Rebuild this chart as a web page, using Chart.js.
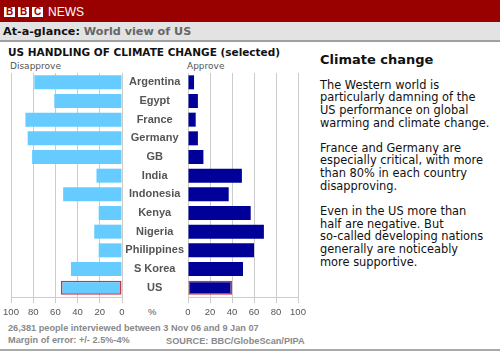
<!DOCTYPE html>
<html><head><meta charset="utf-8">
<script src="https://cdn.jsdelivr.net/npm/chart.js@4"></script>
<style>
html,body{margin:0;padding:0;background:#fff;}
body{width:500px;height:352px;position:relative;overflow:hidden;font-family:"DejaVu Sans",Verdana,sans-serif;}
.abs{position:absolute;white-space:nowrap;}
#hdr{left:0;top:0;width:500px;height:22px;background:#990000;}
.blk{position:absolute;top:7px;width:11px;height:10px;background:#fff;color:#990000;font:bold 10px "Liberation Sans",Arial,sans-serif;line-height:10px;text-align:center;}
#news{left:48px;top:4px;color:#fff;font:12px "Liberation Sans",Arial,sans-serif;line-height:16px;}
#band{left:0;top:22px;width:500px;height:18px;background:#e3e3e3;border-bottom:2px solid #a0a0a0;}
#glance{left:3px;top:24px;font:bold 11.2px "DejaVu Sans",Verdana,sans-serif;line-height:15px;color:#111;}
#glance span{color:#666;}
#title{left:8px;top:46px;font:bold 10.5px "DejaVu Sans",Verdana,sans-serif;color:#111;line-height:12px;}
.sub{top:61px;font:9px "DejaVu Sans",Verdana,sans-serif;color:#555;line-height:11px;}
#pct{left:148px;top:306px;font:9.5px "Liberation Sans",Arial,sans-serif;color:#555;}
.foot{font:bold 9.2px "Liberation Sans",Arial,sans-serif;color:#8a8a8a;line-height:11px;}
#side{left:320px;top:51px;width:180px;color:#111;}
#side h2{margin:0 0 9.6px 0;font:bold 13px "DejaVu Sans",Verdana,sans-serif;line-height:18px;}
#side p{margin:0 0 12.3px 0;font:11.4px "DejaVu Sans",Verdana,sans-serif;line-height:12.7px;white-space:nowrap;}
#bot{left:0;top:349px;width:500px;height:2px;background:#aaa;}
canvas{position:absolute;}
</style></head><body>
<div id="hdr" class="abs">
  <div class="blk" style="left:4px">B</div>
  <div class="blk" style="left:18px">B</div>
  <div class="blk" style="left:32px">C</div>
  <div id="news" class="abs">NEWS</div>
</div>
<div id="band" class="abs"></div>
<div id="glance" class="abs">At-a-glance: <span>World view of US</span></div>
<div id="title" class="abs">US HANDLING OF CLIMATE CHANGE (selected)</div>
<div class="abs sub" style="left:10px">Disapprove</div>
<div class="abs sub" style="left:187px">Approve</div>
<div id="pct" class="abs">%</div>
<div class="abs foot" style="left:8px;top:323px">26,381 people interviewed between 3 Nov 06 and 9 Jan 07</div>
<div class="abs foot" style="left:8px;top:335px">Margin of error: +/- 2.5%-4%</div>
<div class="abs foot" style="left:166px;top:336px">SOURCE: BBC/GlobeScan/PIPA</div>
<div id="side" class="abs">
  <h2>Climate change</h2>
  <p>The Western world is<br>particularly damning of the<br>US performance on global<br>warming and climate change.</p>
  <p>France and Germany are<br>especially critical, with more<br>than 80% in each country<br>disapproving.</p>
  <p>Even in the US more than<br>half are negative. But<br>so-called developing nations<br>generally are noticeably<br>more supportive.</p>
</div>
<div id="bot" class="abs"></div>
<canvas id="cl" width="135" height="259" style="left:0;top:60px;width:135px;height:259px"></canvas>
<canvas id="cr" width="188" height="259" style="left:122px;top:60px;width:188px;height:259px"></canvas>
<script>
const countries = ["Argentina","Egypt","France","Germany","GB","India","Indonesia","Kenya","Nigeria","Philippines","S Korea","US"];
const disapprove = [79,61,87,85,81,23,53,21,25,21,46,55];
const approve = [5.5,9,7,9,14,49,37,57,69,60,50,40];
const axisTicks = [0,20,40,60,80,100];

const lightBlue = "#66ccff", navy = "#000099", usBorder = "#cc3344";
const hl = countries.map(c => c === "US");

function xAxis(reverse){
  return {
    type:"linear", min:0, max:100, reverse:reverse,
    afterBuildTicks: s => { s.ticks = axisTicks.map(v => ({value:v})); },
    afterFit: s => { s.height = 22; },
    grid:{color:"#cccccc", lineWidth:1, tickLength:6, drawTicks:true},
    border:{color:"#cccccc"},
    ticks:{autoSkip:false, maxRotation:0, padding:4, color:"#555", font:{family:"Liberation Sans, Arial, sans-serif", size:9.5}}
  };
}
function ds(values, color){
  return {
    data: values,
    backgroundColor: color,
    borderColor: hl.map(h => h ? usBorder : "rgba(0,0,0,0)"),
    borderWidth: hl.map(h => h ? 1.5 : 0),
    borderSkipped: false,
    categoryPercentage: 1,
    barPercentage: 0.75
  };
}
const common = {
  responsive:false, animation:false, indexAxis:"y",
  plugins:{legend:{display:false}, tooltip:{enabled:false}}
};
Chart.defaults.font.family = "Liberation Sans, Arial, sans-serif";

new Chart(document.getElementById("cl"), {
  type:"bar",
  data:{labels:countries, datasets:[ds(disapprove, lightBlue)]},
  options:Object.assign({}, common, {
    layout:{padding:{left:11, right:13, top:13, bottom:0}},
    scales:{
      x: xAxis(true),
      y: {type:"category", display:false, offset:true}
    }
  })
});

new Chart(document.getElementById("cr"), {
  type:"bar",
  data:{labels:countries, datasets:[ds(approve, navy)]},
  options:Object.assign({}, common, {
    layout:{padding:{left:0, right:12, top:13, bottom:0}},
    scales:{
      x: xAxis(false),
      y: {type:"category", position:"left", offset:true,
          afterFit: s => { s.width = 66; },
          grid:{display:false, drawTicks:false, tickLength:0}, border:{display:false},
          ticks:{crossAlign:"center", padding:4, color:"#555", autoSkip:false,
                 font:{family:"Liberation Sans, Arial, sans-serif", size:11, weight:"bold"}}}
    }
  })
});
</script>
</body></html>
